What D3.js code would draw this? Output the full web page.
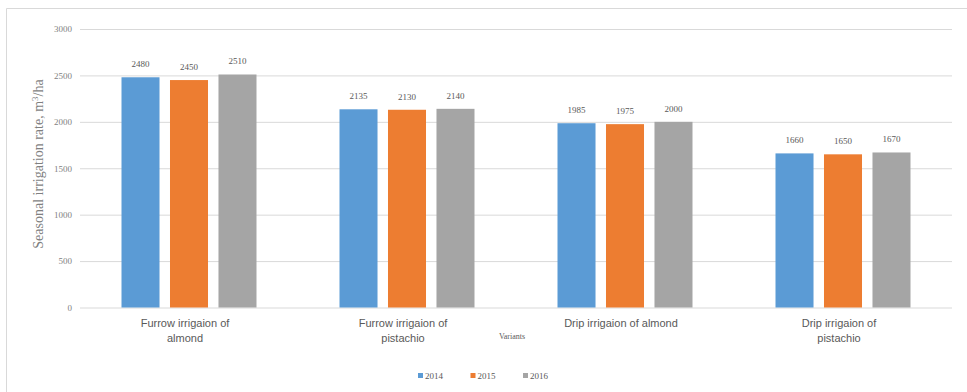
<!DOCTYPE html>
<html>
<head>
<meta charset="utf-8">
<script src="https://cdn.jsdelivr.net/npm/d3@7"></script>
<style>
  html, body { margin: 0; padding: 0; background: #fff; }
  svg { display: block; }
</style>
</head>
<body>
<script>
// Seasonal irrigation rate by variant and year
const categories = [
  ["Furrow irrigaion of", "almond"],
  ["Furrow irrigaion of", "pistachio"],
  ["Drip irrigaion of almond"],
  ["Drip irrigaion of", "pistachio"]
];
const years = ["2014", "2015", "2016"];
const values2014 = [2480, 2135, 1985, 1660];
const values2015 = [2450, 2130, 1975, 1650];
const values2016 = [2510, 2140, 2000, 1670];
const yTicks = [0, 500, 1000, 1500, 2000, 2500, 3000];
const colors = ["#5b9bd5", "#ed7d31", "#a5a5a5"];

const series = [values2014, values2015, values2016];
const catIds = categories.map((c, i) => i);

const W = 967, H = 392;
const plot = { left: 80, right: 952, top: 29, bottom: 307.5 };

const svg = d3.select("body").append("svg")
  .attr("width", W).attr("height", H);

// chart frame (top and left edges)
svg.append("path")
  .attr("d", `M6.5,392 V8.5 H967`)
  .attr("fill", "none").attr("stroke", "#d9d9d9").attr("stroke-width", 1);

const y = d3.scaleLinear().domain([0, 3000]).range([plot.bottom, plot.top]);
const x0 = d3.scaleBand().domain(catIds).range([plot.left, plot.right]).padding(0);
const groupW = 135;
const x1 = d3.scaleBand().domain(years).range([0, groupW]).paddingInner(0.216).paddingOuter(0);

// gridlines and tick labels
const yAxis = d3.axisLeft(y).tickValues(yTicks).tickFormat(d3.format("d"))
  .tickSize(-(plot.right - plot.left)).tickPadding(8);
const gy = svg.append("g").attr("transform", `translate(${plot.left},0)`).call(yAxis);
gy.select(".domain").remove();
gy.selectAll(".tick line").attr("stroke", "#d9d9d9").attr("stroke-width", 1);
gy.selectAll(".tick text")
  .attr("fill", "#7f7f7f")
  .style("font-family", "'Liberation Serif', 'Times New Roman', serif")
  .style("font-size", "9px");

// bars
const groups = svg.append("g").selectAll("g")
  .data(catIds).join("g")
  .attr("transform", i => `translate(${x0(i) + (x0.bandwidth() - groupW) / 2},0)`);

groups.selectAll("rect")
  .data(i => years.map((yr, k) => ({ yr, k, v: series[k][i] })))
  .join("rect")
  .attr("x", d => x1(d.yr))
  .attr("width", x1.bandwidth())
  .attr("y", d => y(d.v))
  .attr("height", d => y(0) - y(d.v))
  .attr("fill", d => colors[d.k]);

// value labels
groups.selectAll("text.val")
  .data(i => years.map((yr, k) => ({ yr, k, v: series[k][i] })))
  .join("text")
  .attr("class", "val")
  .attr("x", d => x1(d.yr) + x1.bandwidth() / 2)
  .attr("y", d => y(d.v) - 10)
  .attr("text-anchor", "middle")
  .attr("fill", "#595959")
  .style("font-family", "'Liberation Serif', 'Times New Roman', serif")
  .style("font-size", "9px")
  .text(d => d.v);

// category labels
const xAxis = d3.axisBottom(x0).tickSize(0).tickFormat("");
const gx = svg.append("g").attr("transform", `translate(0,${plot.bottom})`).call(xAxis);
gx.select(".domain").remove();
gx.selectAll(".tick").each(function(i) {
  const t = d3.select(this).append("text")
    .attr("text-anchor", "middle")
    .attr("fill", "#595959")
    .style("font-family", "'Liberation Sans', Arial, sans-serif")
    .style("font-size", "11px");
  categories[i].forEach((line, j) => {
    t.append("tspan").attr("x", -4).attr("y", 19 + j * 15).text(line);
  });
});

// axis titles
svg.append("text")
  .attr("transform", `translate(43,${(70 + 258) / 2}) rotate(-90)`)
  .attr("text-anchor", "middle")
  .attr("fill", "#7f7f7f")
  .style("font-family", "'Liberation Serif', 'Times New Roman', serif")
  .style("font-size", "14px")
  .html("Seasonal irrigation rate, m<tspan dy='-5' font-size='9px'>3</tspan><tspan dy='5'>/ha</tspan>");

svg.append("text")
  .attr("x", (plot.left + plot.right) / 2 - 4)
  .attr("y", 339)
  .attr("text-anchor", "middle")
  .attr("fill", "#595959")
  .style("font-family", "'Liberation Serif', 'Times New Roman', serif")
  .style("font-size", "8px")
  .text("Variants");

// legend
const legend = svg.append("g").attr("transform", "translate(418,376)");
const legendX = d3.scalePoint().domain(years).range([0, 105]);
const items = legend.selectAll("g").data(years).join("g")
  .attr("transform", d => `translate(${legendX(d)},0)`);
items.append("rect")
  .attr("x", 0).attr("y", -3).attr("width", 5).attr("height", 5)
  .attr("fill", (d, k) => colors[k]);
items.append("text")
  .attr("x", 7).attr("y", 3)
  .attr("fill", "#595959")
  .style("font-family", "'Liberation Serif', 'Times New Roman', serif")
  .style("font-size", "9px")
  .text(d => d);
</script>
</body>
</html>
